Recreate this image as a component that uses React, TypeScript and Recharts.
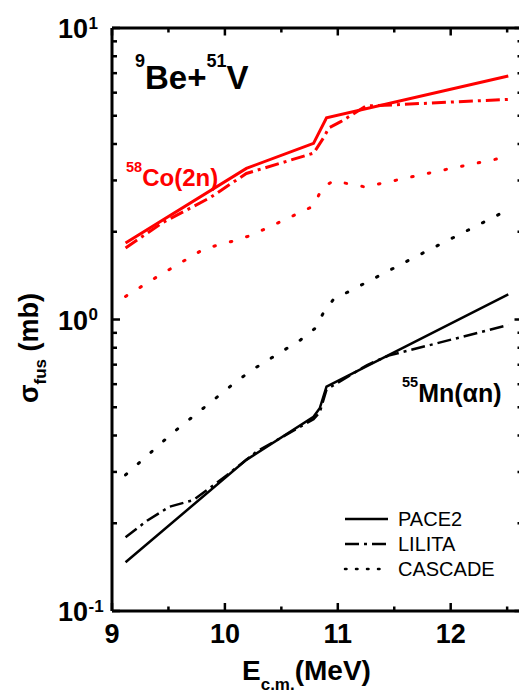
import React from 'react';
import { LineChart, Line, XAxis, YAxis } from 'recharts';

// Energy axis (MeV)
const energyTicks = [9, 9.5, 10, 10.5, 11, 11.5, 12, 12.5];
const energyMin = 9;
const energyMax = 12.636;

// Cross-section axis (mb), logarithmic
const sigmaTicks = [
  0.1, 0.2, 0.3, 0.4, 0.5, 0.6, 0.7, 0.8, 0.9,
  1, 2, 3, 4, 5, 6, 7, 8, 9, 10,
];
const sigmaMin = 0.1;
const sigmaMax = 10;

// 58Co(2n) channel
const coPace2E = [9.12, 10.19, 10.785, 10.9, 12.51];
const coPace2Sigma = [1.83, 3.3, 4.02, 4.92, 6.84];

const coLilitaE = [9.12, 9.45, 9.87, 10.19, 10.785, 10.88, 10.92, 11.03, 11.25, 11.49, 12.51];
const coLilitaSigma = [1.76, 2.15, 2.62, 3.17, 3.72, 4.24, 4.54, 4.78, 5.4, 5.45, 5.69];

const coCascadeE = [9.12, 9.41, 9.82, 10.1, 10.24, 10.52, 10.785, 10.86, 10.96, 11.24, 11.94, 12.51];
const coCascadeSigma = [1.2, 1.41, 1.75, 1.87, 1.95, 2.19, 2.45, 2.82, 2.99, 2.85, 3.26, 3.62];

// 55Mn(alpha n) channel
const mnPace2E = [9.12, 10.19, 10.785, 10.84, 10.9, 12.51];
const mnPace2Sigma = [0.147, 0.33, 0.464, 0.496, 0.588, 1.22];

const mnLilitaE = [9.12, 9.31, 9.51, 9.72, 10.02, 10.28, 10.785, 10.84, 10.9, 11.26, 11.45, 12.51];
const mnLilitaSigma = [0.179, 0.204, 0.228, 0.24, 0.293, 0.352, 0.455, 0.48, 0.575, 0.698, 0.752, 0.957];

const mnCascadeE = [9.12, 9.54, 10.1, 10.24, 10.67, 10.8, 10.87, 10.96, 11.66, 12.5];
const mnCascadeSigma = [0.293, 0.409, 0.612, 0.671, 0.851, 0.933, 1.05, 1.17, 1.62, 2.37];

const legendNames = ['PACE2', 'LILITA', 'CASCADE'];

const toPoints = (e: number[], s: number[]) => e.map((x, i) => ({ e: x, s: s[i] }));

const FONT = '"Liberation Sans", Arial, sans-serif';
const RED = '#ff0000';
const DASH_DOT = '14 5 3 5';
const DOTTED = '1.5 15.5';

const isDecade = (v: number) => Math.abs(Math.log10(v) - Math.round(Math.log10(v))) < 1e-9;

const BottomTick = (props: any) => {
  const { x, y, payload } = props;
  const v = payload.value as number;
  const major = Number.isInteger(v);
  return (
    <g>
      <line x1={x} x2={x} y1={y} y2={y - (major ? 8 : 4.5)} stroke="#000" strokeWidth={2.5} />
      {major && (
        <text x={x} y={y + 32} textAnchor="middle" fontSize={27} fontWeight="bold" fontFamily={FONT} fill="#000">
          {v}
        </text>
      )}
    </g>
  );
};

const TopTick = (props: any) => {
  const { x, y, payload } = props;
  const major = Number.isInteger(payload.value);
  return <line x1={x} x2={x} y1={y} y2={y + (major ? 7.5 : 4.5)} stroke="#000" strokeWidth={2.5} />;
};

const LeftTick = (props: any) => {
  const { x, y, payload } = props;
  const v = payload.value as number;
  const major = isDecade(v);
  const exp = Math.round(Math.log10(v));
  return (
    <g>
      <line x1={x} x2={x + (major ? 8 : 5)} y1={y} y2={y} stroke="#000" strokeWidth={2.5} />
      {major && (
        <g fontFamily={FONT} fontWeight="bold" fill="#000">
          <text x={x - 24} y={y + 10} textAnchor="end" fontSize={27}>10</text>
          <text x={x - 23.5} y={y + 0.5} textAnchor="start" fontSize={17}>{String(exp)}</text>
        </g>
      )}
    </g>
  );
};

const RightTick = (props: any) => {
  const { x, y, payload } = props;
  const major = isDecade(payload.value);
  return <line x1={x} x2={x - (major ? 8 : 5)} y1={y} y2={y} stroke="#000" strokeWidth={2.5} />;
};

const axisLine = { stroke: '#000', strokeWidth: 3 };

export default function App() {
  const series = [
    { pts: toPoints(coPace2E, coPace2Sigma), color: RED, dash: undefined, w: 3, cap: 'butt' },
    { pts: toPoints(coLilitaE, coLilitaSigma), color: RED, dash: DASH_DOT, w: 3, cap: 'butt' },
    { pts: toPoints(coCascadeE, coCascadeSigma), color: RED, dash: DOTTED, w: 3, cap: 'round' },
    { pts: toPoints(mnPace2E, mnPace2Sigma), color: '#000', dash: undefined, w: 2.5, cap: 'butt' },
    { pts: toPoints(mnLilitaE, mnLilitaSigma), color: '#000', dash: DASH_DOT, w: 2.5, cap: 'butt' },
    { pts: toPoints(mnCascadeE, mnCascadeSigma), color: '#000', dash: DOTTED, w: 3, cap: 'round' },
  ];
  const legendDash = [undefined, DASH_DOT, '1.5 9.5'];

  return (
    <div style={{ position: 'absolute', left: 0, top: 0, width: 519, height: 696, overflow: 'hidden', background: '#fff' }}>
      <LineChart width={525} height={696} margin={{ top: 27, right: 1.5, bottom: 84, left: 111 }}>
        <XAxis
          xAxisId="bottom"
          type="number"
          dataKey="e"
          domain={[energyMin, energyMax]}
          allowDataOverflow
          ticks={energyTicks}
          interval={0}
          height={1}
          tickSize={0}
          tickMargin={0}
          tickLine={false}
          axisLine={axisLine}
          tick={<BottomTick />}
        />
        <XAxis
          xAxisId="top"
          orientation="top"
          type="number"
          dataKey="e"
          domain={[energyMin, energyMax]}
          allowDataOverflow
          ticks={energyTicks}
          interval={0}
          height={1}
          tickSize={0}
          tickMargin={0}
          tickLine={false}
          axisLine={axisLine}
          tick={<TopTick />}
        />
        <YAxis
          yAxisId="left"
          type="number"
          scale="log"
          domain={[sigmaMin, sigmaMax]}
          allowDataOverflow
          ticks={sigmaTicks}
          interval={0}
          width={1}
          tickSize={0}
          tickMargin={0}
          tickLine={false}
          axisLine={axisLine}
          tick={<LeftTick />}
        />
        <YAxis
          yAxisId="right"
          orientation="right"
          type="number"
          scale="log"
          domain={[sigmaMin, sigmaMax]}
          allowDataOverflow
          ticks={sigmaTicks}
          interval={0}
          width={1}
          tickSize={0}
          tickMargin={0}
          tickLine={false}
          axisLine={axisLine}
          tick={<RightTick />}
        />
        {series.map((s, i) => (
          <Line
            key={i}
            data={s.pts}
            dataKey="s"
            xAxisId="bottom"
            yAxisId="left"
            type="linear"
            stroke={s.color}
            strokeWidth={s.w}
            strokeDasharray={s.dash}
            strokeLinecap={s.cap as any}
            dot={false}
            activeDot={false}
            isAnimationActive={false}
          />
        ))}

        {/* reaction label */}
        <text x={135} y={89} fontFamily={FONT} fontWeight="bold" fill="#000">
          <tspan fontSize={18} dy={-22}>9</tspan>
          <tspan fontSize={33} dy={22}>Be+</tspan>
          <tspan fontSize={18} dy={-22}>51</tspan>
          <tspan fontSize={33} dy={22}>V</tspan>
        </text>

        {/* channel labels */}
        <text x={126} y={186} fontFamily={FONT} fontWeight="bold" fill={RED}>
          <tspan fontSize={14.5} dy={-14}>58</tspan>
          <tspan fontSize={24} dy={14}>Co(2n)</tspan>
        </text>
        <text x={402} y={402} fontFamily={FONT} fontWeight="bold" fill="#000">
          <tspan fontSize={14.5} dy={-15}>55</tspan>
          <tspan fontSize={25} dy={15}>Mn(αn)</tspan>
        </text>

        {/* axis titles */}
        <text x={242} y={680} fontFamily={FONT} fontWeight="bold" fill="#000">
          <tspan fontSize={28}>E</tspan>
          <tspan fontSize={17} dy={10}>c.m.</tspan>
          <tspan fontSize={28} dy={-10}>(MeV)</tspan>
        </text>
        <text transform="translate(38, 348) rotate(-90)" textAnchor="middle" fontFamily={FONT} fontWeight="bold" fill="#000">
          <tspan fontSize={27}>σ</tspan>
          <tspan fontSize={17} dy={8}>fus</tspan>
          <tspan fontSize={27} dy={-8}> (mb)</tspan>
        </text>

        {/* legend */}
        <g fontFamily={FONT} fontSize={20} fill="#000">
          {legendNames.map((name, i) => {
            const cy = 519 + i * 25;
            return (
              <g key={name}>
                <line
                  x1={345}
                  x2={388}
                  y1={cy}
                  y2={cy}
                  stroke="#000"
                  strokeWidth={2.5}
                  strokeDasharray={legendDash[i]}
                  strokeLinecap={i === 2 ? 'round' : 'butt'}
                />
                <text x={398} y={cy + 7}>{name}</text>
              </g>
            );
          })}
        </g>
      </LineChart>
    </div>
  );
}
